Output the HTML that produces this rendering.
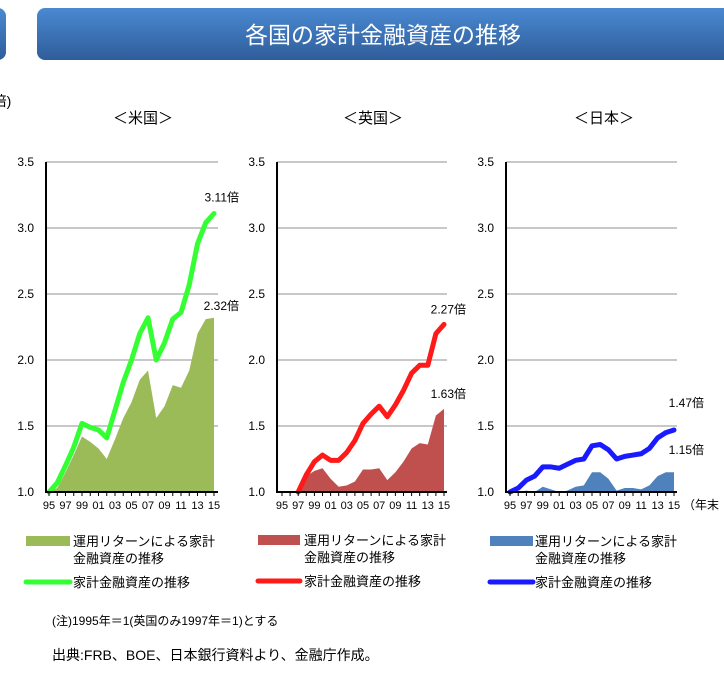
<!DOCTYPE html>
<html><head><meta charset="utf-8">
<style>
body{margin:0;background:#fff;width:724px;height:676px;overflow:hidden;font-family:"Liberation Sans","Noto Sans CJK JP",sans-serif}
svg text{font-family:"Liberation Sans","Noto Sans CJK JP",sans-serif}
</style></head>
<body>
<svg id="s" width="724" height="676" viewBox="0 0 724 676" xmlns="http://www.w3.org/2000/svg">
<defs>
<linearGradient id="tg" x1="0" y1="0" x2="0" y2="1">
<stop offset="0" stop-color="#4a89d2"/><stop offset="1" stop-color="#2f5d9a"/>
</linearGradient>
</defs>
<rect x="-20" y="8" width="26" height="52" rx="8" fill="url(#tg)"/>
<rect x="37" y="8" width="700" height="52" rx="8" fill="url(#tg)"/>
<text x="383" y="43" font-size="23" fill="#fff" text-anchor="middle">各国の家計金融資産の推移</text>
<text x="-12" y="106" font-size="14" fill="#000">(倍)</text>
<text x="143" y="123" font-size="15" text-anchor="middle">＜米国＞</text>
<text x="373" y="123" font-size="15" text-anchor="middle">＜英国＞</text>
<text x="604" y="123" font-size="15" text-anchor="middle">＜日本＞</text>
<g id="charts"></g>
<g font-size="13">
<rect x="26" y="536" width="44" height="10" fill="#9bbb59"/>
<text x="73" y="546">運用リターンによる家計</text><text x="73" y="563">金融資産の推移</text>
<line x1="26" y1="582" x2="70" y2="582" stroke="#33ff33" stroke-width="5" stroke-linecap="round"/>
<text x="73" y="587">家計金融資産の推移</text>
<rect x="258" y="535" width="42" height="10" fill="#c0504d"/>
<text x="304" y="545">運用リターンによる家計</text><text x="304" y="562">金融資産の推移</text>
<line x1="258" y1="581" x2="300" y2="581" stroke="#ff1a1a" stroke-width="5" stroke-linecap="round"/>
<text x="304" y="586">家計金融資産の推移</text>
<rect x="490" y="536" width="43" height="10" fill="#4f81bd"/>
<text x="535" y="546">運用リターンによる家計</text><text x="535" y="563">金融資産の推移</text>
<line x1="490" y1="582" x2="533" y2="582" stroke="#1a1aff" stroke-width="5" stroke-linecap="round"/>
<text x="535" y="587">家計金融資産の推移</text>
</g>
<text x="52" y="625" font-size="12">(注)1995年＝1(英国のみ1997年＝1)とする</text>
<text x="52" y="660" font-size="14">出典:FRB、BOE、日本銀行資料より、金融庁作成。</text>
</svg>
<script>
const years = ["95","96","97","98","99","00","01","02","03","04","05","06","07","08","09","10","11","12","13","14","15"];
const yTicks = [1.0,1.5,2.0,2.5,3.0,3.5];
const usLine = [1.0,1.07,1.2,1.34,1.52,1.49,1.47,1.41,1.62,1.83,2.0,2.2,2.32,2.0,2.13,2.31,2.36,2.57,2.88,3.04,3.11];
const usArea = [1.0,1.03,1.15,1.28,1.42,1.38,1.33,1.25,1.4,1.56,1.68,1.85,1.92,1.56,1.65,1.81,1.79,1.92,2.2,2.31,2.32];
const ukLine = [null,null,1.0,1.13,1.23,1.28,1.24,1.24,1.3,1.39,1.52,1.59,1.65,1.57,1.66,1.77,1.9,1.96,1.96,2.2,2.27];
const ukArea = [1.0,1.0,1.0,1.12,1.16,1.18,1.1,1.04,1.05,1.08,1.17,1.17,1.18,1.09,1.15,1.23,1.33,1.37,1.36,1.58,1.63];
const jpLine = [1.0,1.03,1.09,1.12,1.19,1.19,1.18,1.21,1.24,1.25,1.35,1.36,1.32,1.25,1.27,1.28,1.29,1.33,1.41,1.45,1.47];
const jpArea = [1.0,1.0,1.01,1.0,1.04,1.02,0.99,1.01,1.04,1.05,1.15,1.15,1.1,1.01,1.03,1.03,1.02,1.05,1.12,1.15,1.15];
const usLabels = ["3.11倍","2.32倍"];
const ukLabels = ["2.27倍","1.63倍"];
const jpLabels = ["1.47倍","1.15倍"];

const NS="http://www.w3.org/2000/svg";
const root=document.getElementById('charts');
function mk(tag,attrs,parent){const e=document.createElementNS(NS,tag);for(const k in attrs)e.setAttribute(k,attrs[k]);(parent||root).appendChild(e);return e;}
const yTop=162,yBot=492;
function yS(v){return yBot-(Math.max(v,1)-1)/2.5*(yBot-yTop);}

function chart(name,axX,right,x0,x1,line,area,labels,areaCol,lineCol,lblPos){
  const g=mk('g',{});
  
  
  const xS=i=>x0+(x1-x0)*i/(years.length-1);
  yTicks.forEach(t=>{
    if(t>1){const gl=mk('line',{x1:axX,x2:right,y1:yS(t),y2:yS(t),stroke:'#a6a6a6','stroke-width':1.2},g);
      }
    const tl=mk('text',{x:axX-12,y:yS(t)+4,'font-size':12,'text-anchor':'end'},g);
    
    tl.textContent=t.toFixed(1);
  });
  let d='M'+xS(0)+','+yBot;
  area.forEach((v,i)=>{d+=' L'+xS(i)+','+yS(v);});
  d+=' L'+xS(area.length-1)+','+yBot+' Z';
  const ar=mk('path',{d:d,fill:areaCol},g);
  
  let ld='';
  line.forEach((v,i)=>{if(v==null)return;ld+=(ld?' L':'M')+xS(i)+','+yS(v);});
  const ln=mk('path',{d:ld,fill:'none',stroke:lineCol,'stroke-width':5,'stroke-linejoin':'round','stroke-linecap':'round'},g);
  
  const ax=mk('path',{d:'M'+axX+','+yTop+' L'+axX+','+yBot+' L'+right+','+yBot,fill:'none',stroke:'#000','stroke-width':2},g);
  
  years.forEach((y,i)=>{
    const tk=mk('line',{x1:xS(i),x2:xS(i),y1:yBot,y2:yBot+4,stroke:'#000','stroke-width':1},g);
    
    if(i%2==0){const t=mk('text',{x:xS(i),y:yBot+17,'font-size':11,'text-anchor':'middle'},g);
      t.textContent=y;}
  });
  const n=years.length-1;
  const l1=mk('text',{x:lblPos[0],y:yS(line[n])+lblPos[1],'font-size':12,'text-anchor':'end'},g);
  l1.textContent=labels[0];
  const l2=mk('text',{x:lblPos[0],y:yS(area[n])+lblPos[2],'font-size':12,'text-anchor':'end'},g);
  l2.textContent=labels[1];
}
chart('us',46,218,49,214,usLine,usArea,usLabels,'#9bbb59','#33ff33',[239,-12,-8]);
chart('uk',277,447,282,444,ukLine,ukArea,ukLabels,'#c0504d','#ff1a1a',[466,-11,-11]);
chart('jp',506,677,510,674,jpLine,jpArea,jpLabels,'#4f81bd','#1a1aff',[704,-23,-18]);
const ye=mk('text',{x:683,y:509,'font-size':12});


ye.textContent='（年末';
</script>
</body></html>
